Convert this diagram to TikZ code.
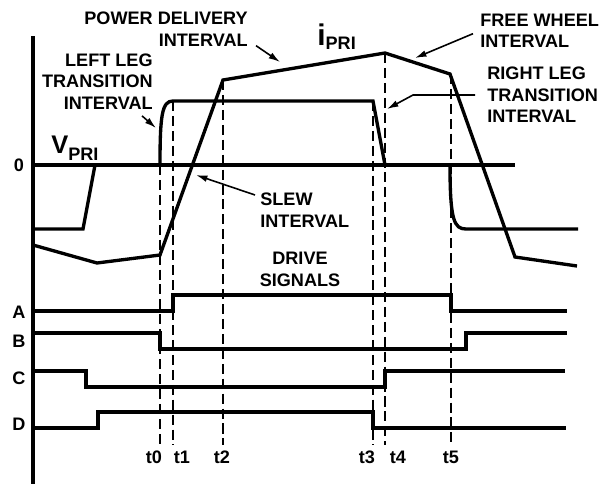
\documentclass[tikz,border=0pt]{standalone}
\usepackage{fontspec}
\setmainfont{Liberation Sans}
\usetikzlibrary{arrows.meta}

\begin{document}
\begin{tikzpicture}[x=0.02cm, y=-0.02cm,
  every node/.style={font=\bfseries\fontsize{10.3}{12.3}\selectfont, inner sep=0pt},
  wave/.style={line width=1.9pt},
  marker/.style={line width=1.3pt, dash pattern=on 5.7pt off 2.8pt},
  callout/.style={line width=0.9pt, -{Latex[length=6.5pt, width=3.8pt]}}]
  \useasboundingbox (0,0) rectangle (609,484);
  \def\zero{165}
  \def\vhi{101}
  \def\vlo{229}
  \def\tbot{445}

  % axis and zero line
  \draw[wave] (33,36) -- (33,484);
  \draw[wave] (33,\zero) -- (515,\zero);
  \node (zero) at (19,\zero) {0};

  % time markers
  \foreach \name/\x/\top/\lx in {t0/160/165/154, t1/173/101/182, t2/223/80/222,
                                 t3/373/101/367, t4/385/53/398, t5/451/74/451}{
    \draw[marker] (\x,\top) -- (\x,\tbot);
    \node (\name) at (\lx,457) {\name};
  }

  % primary voltage
  \draw[wave] (33,\vlo) -- (83,\vlo) -- (95,\zero) -- (160,\zero)
    .. controls (160,115) and (162,\vhi) .. (173,\vhi) -- (373,\vhi) -- (385,\zero)
    -- (450,\zero) .. controls (450,220) and (454,\vlo) .. (466,\vlo) -- (578,\vlo);
  \node[anchor=base west] (vpri) at (51,153)
    {{\fontsize{14.5}{14}\selectfont V}\raisebox{-4.5pt}{PRI}};

  % primary current
  \draw[wave] (33,245) -- (97,263) -- (160,255) -- (223,80) -- (385,53)
    -- (450,74) -- (515,257) -- (577,266);
  \node[anchor=base west] (ipri) at (317,45)
    {{\fontsize{17}{17}\selectfont i}\raisebox{-2.3pt}{PRI}};

  % drive signals
  \draw[wave] (33,311) -- (173,311) -- (173,295) -- (451,295) -- (451,311) -- (567,311);
  \draw[wave] (33,333) -- (160,333) -- (160,349) -- (466,349) -- (466,333) -- (567,333);
  \draw[wave] (33,371) -- (86,371) -- (86,387) -- (385,387) -- (385,371) -- (565,371);
  \draw[wave] (33,428) -- (98,428) -- (98,412) -- (373,412) -- (373,428) -- (566,428);
  \foreach \name/\y in {A/312, B/341, C/378, D/424}
    \node (sig\name) at (19,\y) {\name};

  % interval labels
  \node[anchor=north east, align=right] (pdi) at (248,11.7) {POWER DELIVERY\\INTERVAL};
  \node[anchor=north east, align=right] (lli) at (153,53.3) {LEFT LEG\\TRANSITION\\INTERVAL};
  \node[anchor=north west, align=left] (fwi) at (480,13.3) {FREE WHEEL\\INTERVAL};
  \node[anchor=north west, align=left] (rli) at (487,66.7) {RIGHT LEG\\TRANSITION\\INTERVAL};
  \node[anchor=north west, align=left] (swi) at (260,193) {SLEW\\INTERVAL};
  \node[anchor=north, align=center] (drv) at (300,252) {DRIVE\\SIGNALS};

  \coordinate (pdtip) at (280,62);
  \coordinate (lltip) at (156,128);
  \coordinate (fwtip) at (415,58);
  \coordinate (rlbend) at (413,95);
  \coordinate (rltip) at (387,109);
  \coordinate (swtip) at (196,175);
  \draw[callout] ([shift={(8,-1)}]pdi.south east) -- (pdtip);
  \draw[callout] ([shift={(-11,6)}]lli.south east) -- (lltip);
  \draw[callout] ([shift={(-7,3)}]fwi.west) -- (fwtip);
  \draw[callout] ([shift={(-12,0)}]rli.west) -- (rlbend) -- (rltip);
  \draw[callout] ([shift={(-5,2)}]swi.north west) -- (swtip);
\end{tikzpicture}
\end{document}
